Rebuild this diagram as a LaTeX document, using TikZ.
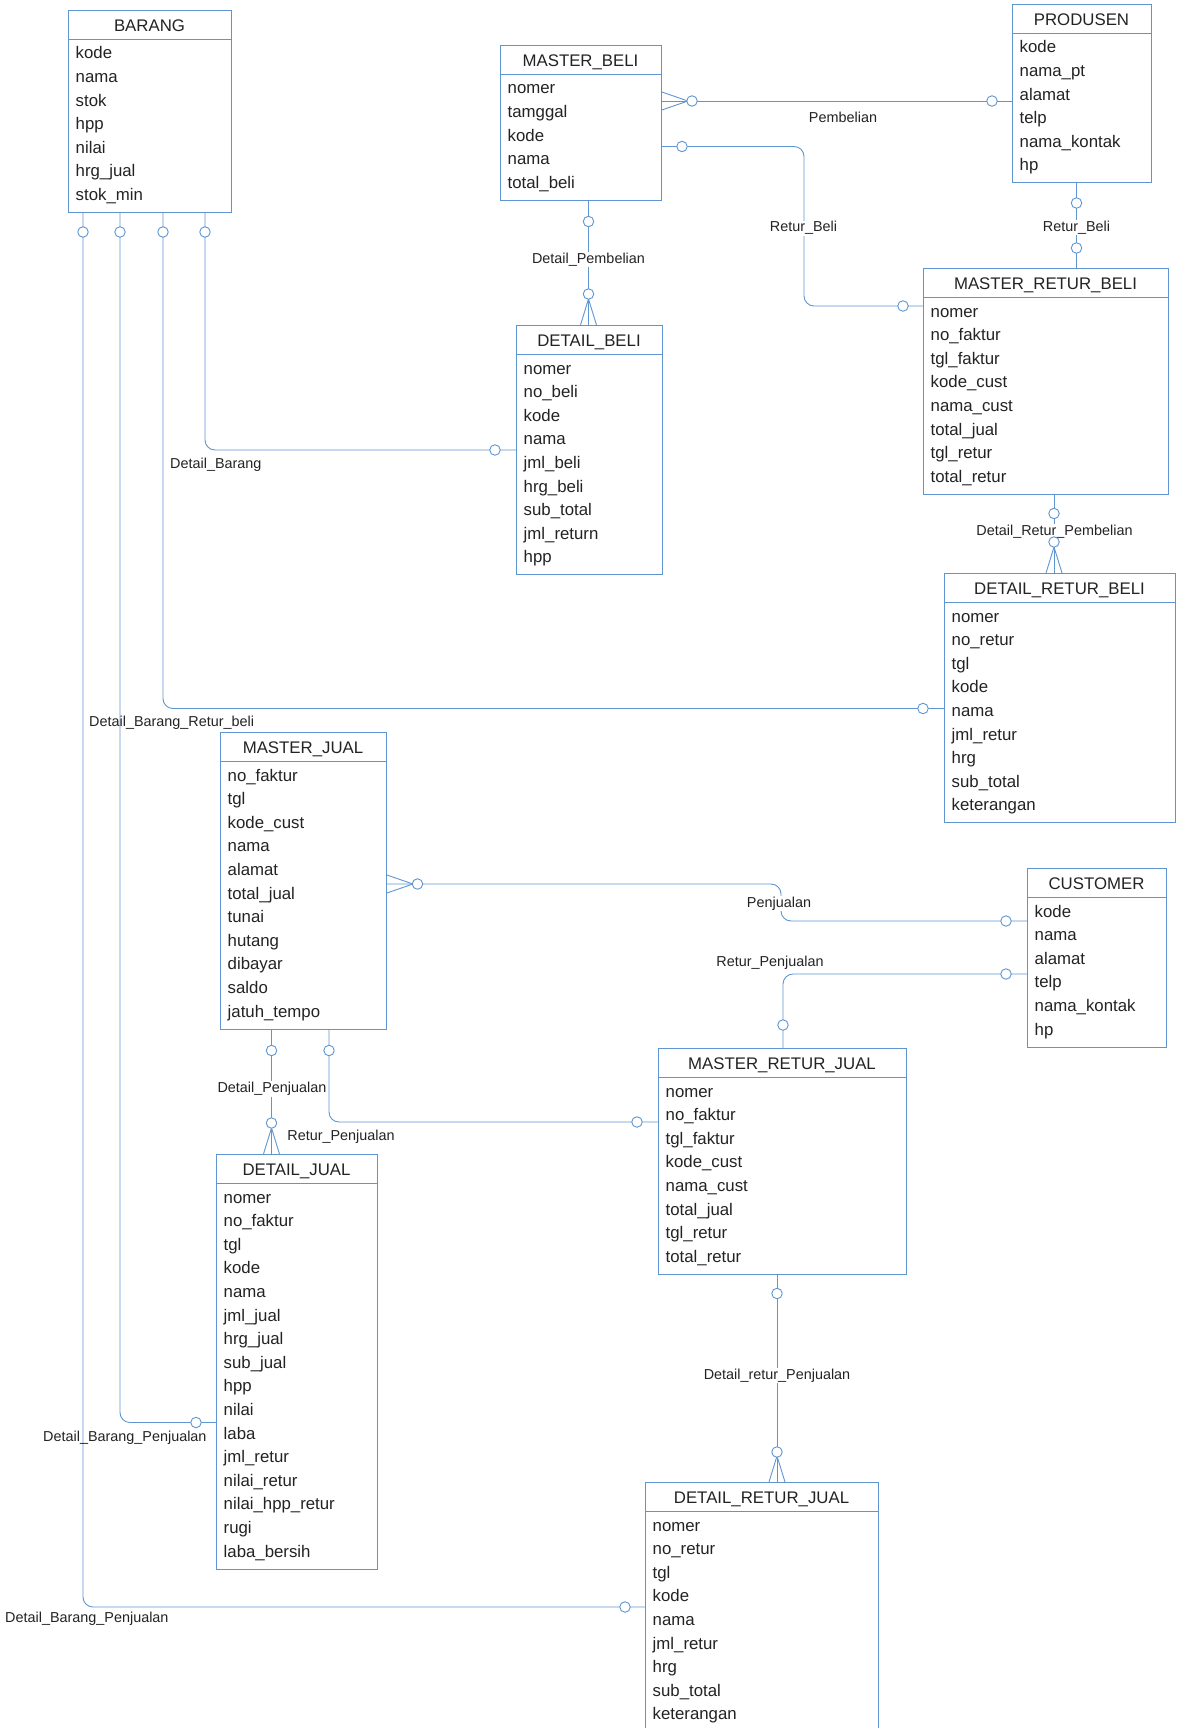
\documentclass[tikz,border=0pt]{standalone}
\usepackage{fontspec}
\setmainfont{Liberation Sans}

\definecolor{erblue}{RGB}{95,150,210}
\definecolor{ertext}{RGB}{35,35,35}

\tikzset{
  entbox/.style={draw=erblue, line width=0.9pt, anchor=north west, inner sep=0pt},
  enttitle/.style={anchor=base, inner sep=0pt, text=ertext, font=\fontsize{16.8}{18}\selectfont},
  attr/.style={anchor=base west, inner sep=0pt, text=ertext, font=\fontsize{16.8}{18}\selectfont},
  rel/.style={draw=erblue, line width=0.9pt, rounded corners=10pt},
  crow/.style={draw=erblue, line width=0.9pt},
  zero/.style={circle, draw=erblue, fill=white, line width=0.9pt, minimum size=10.5pt, inner sep=0pt},
  rlabel/.style={anchor=base, inner sep=0pt, text=ertext, font=\fontsize{14.4}{16}\selectfont},
  rlabelw/.style={rlabel, fill=white, inner sep=1pt},
}

% name, x, y, width, rows, title, attributes
\newcommand{\erentity}[7]{%
  \node[entbox, minimum width=#4, minimum height={60.5+23.6*(#5-1)}] (#1) at (#2,#3) {};
  \draw[crow] (#1.north west) ++(0,29) -- ++(#4,0);
  \node[enttitle] (#1-t) at ({#2+#4/2},{#3+21.5}) {#6};
  \foreach \a [count=\i] in {#7}
    \node[attr] (#1-\i) at ({#2+7.5},{#3+49+23.6*(\i-1)}) {\a};
}

\begin{document}
\begin{tikzpicture}[x=1pt,y=-1pt]
  \fill[white] (0,0) rectangle (1179,1728);
  \useasboundingbox (0,0) rectangle (1179,1728);

  % tables
  \erentity{barang}{68}{10}{163}{7}{BARANG}{kode,nama,stok,hpp,nilai,hrg\_jual,stok\_min}
  \erentity{mbeli}{500}{45}{161}{5}{MASTER\_BELI}{nomer,tamggal,kode,nama,total\_beli}
  \erentity{produsen}{1012}{4}{139}{6}{PRODUSEN}{kode,nama\_pt,alamat,telp,nama\_kontak,hp}
  \erentity{mretb}{923}{268}{245}{8}{MASTER\_RETUR\_BELI}{nomer,no\_faktur,tgl\_faktur,kode\_cust,nama\_cust,total\_jual,tgl\_retur,total\_retur}
  \erentity{dbeli}{516}{325}{146}{9}{DETAIL\_BELI}{nomer,no\_beli,kode,nama,jml\_beli,hrg\_beli,sub\_total,jml\_return,hpp}
  \erentity{dretb}{944}{573}{231}{9}{DETAIL\_RETUR\_BELI}{nomer,no\_retur,tgl,kode,nama,jml\_retur,hrg,sub\_total,keterangan}
  \erentity{mjual}{220}{732}{166}{11}{MASTER\_JUAL}{no\_faktur,tgl,kode\_cust,nama,alamat,total\_jual,tunai,hutang,dibayar,saldo,jatuh\_tempo}
  \erentity{customer}{1027}{868}{139}{6}{CUSTOMER}{kode,nama,alamat,telp,nama\_kontak,hp}
  \erentity{mretj}{658}{1048}{248}{8}{MASTER\_RETUR\_JUAL}{nomer,no\_faktur,tgl\_faktur,kode\_cust,nama\_cust,total\_jual,tgl\_retur,total\_retur}
  \erentity{djual}{216}{1154}{161}{16}{DETAIL\_JUAL}{nomer,no\_faktur,tgl,kode,nama,jml\_jual,hrg\_jual,sub\_jual,hpp,nilai,laba,jml\_retur,nilai\_retur,nilai\_hpp\_retur,rugi,laba\_bersih}
  \erentity{dretj}{645}{1482}{233}{9}{DETAIL\_RETUR\_JUAL}{nomer,no\_retur,tgl,kode,nama,jml\_retur,hrg,sub\_total,keterangan}

  % optional ends
  \coordinate (pbA) at (692,101);     \coordinate (pbB) at (992,101);
  \coordinate (rbA) at (682,146.5);   \coordinate (rbK) at (804,226);   \coordinate (rbB) at (903,306);
  \coordinate (rpA) at (1076.5,203);  \coordinate (rpB) at (1076.5,248);
  \coordinate (dpA) at (588.5,221.5); \coordinate (dpB) at (588.5,294);
  \coordinate (dgA) at (205,232);     \coordinate (dgB) at (495,450);
  \coordinate (drA) at (163,232);     \coordinate (drB) at (923,708.5);
  \coordinate (bjA) at (120,232);     \coordinate (bjB) at (196,1422.5);
  \coordinate (brA) at (83,232);      \coordinate (brB) at (625,1607);
  \coordinate (pjA) at (417.5,884);   \coordinate (pjK) at (781,902);   \coordinate (pjB) at (1006,921);
  \coordinate (rjA) at (1006,974);    \coordinate (rjB) at (783,1025);
  \coordinate (djA) at (271.5,1050.5); \coordinate (djB) at (271.5,1123);
  \coordinate (rlA) at (329,1050.5);  \coordinate (rlB) at (637,1122);
  \coordinate (dxA) at (777,1293.5);  \coordinate (dxB) at (777,1452);
  \coordinate (dtA) at (1054,513.5);  \coordinate (dtB) at (1054,542);

  % relations
  \draw[rel] (mbeli.east |- pbA) -- (produsen.west |- pbB);
  \draw[crow] (mbeli.east |- pbA) ++(0,-9) -- ++(26,9) -- ++(-26,9);
  \draw[rel] (mbeli.east |- rbA) -| (rbK) |- (mretb.west |- rbB);
  \draw[rel] (produsen.south -| rpA) -- (mretb.north -| rpB);
  \draw[rel] (mbeli.south -| dpA) -- (dbeli.north -| dpB);
  \draw[crow] (dbeli.north -| dpB) ++(-8,0) -- ++(8,-26) -- ++(8,26);
  \draw[rel] (barang.south -| dgA) |- (dbeli.west |- dgB);
  \draw[rel] (barang.south -| drA) |- (dretb.west |- drB);
  \draw[rel] (barang.south -| bjA) |- (djual.west |- bjB);
  \draw[rel] (barang.south -| brA) |- (dretj.west |- brB);
  \draw[rel] (mjual.east |- pjA) -| (pjK) |- (customer.west |- pjB);
  \draw[crow] (mjual.east |- pjA) ++(0,-9) -- ++(26,9) -- ++(-26,9);
  \draw[rel] (customer.west |- rjA) -| (mretj.north -| rjB);
  \draw[rel] (mjual.south -| djA) -- (djual.north -| djB);
  \draw[crow] (djual.north -| djB) ++(-8,0) -- ++(8,-26) -- ++(8,26);
  \draw[rel] (mjual.south -| rlA) |- (mretj.west |- rlB);
  \draw[rel] (mretj.south -| dxA) -- (dretj.north -| dxB);
  \draw[crow] (dretj.north -| dxB) ++(-8,0) -- ++(8,-26) -- ++(8,26);
  \draw[rel] (mretb.south -| dtA) -- (dretb.north -| dtB);
  \draw[crow] (dretb.north -| dtB) ++(-8,0) -- ++(8,-26) -- ++(8,26);

  % relation names
  \node[rlabel] (lpb) at (843,123) {Pembelian};
  \node[rlabelw] (lrb1) at (803.5,232) {Retur\_Beli};
  \node[rlabelw] (lrb2) at (1076.5,231.5) {Retur\_Beli};
  \node[rlabelw] (ldp) at (588.5,263) {Detail\_Pembelian};
  \node[rlabel, anchor=base west] (ldg) at (170,468) {Detail\_Barang};
  \node[rlabel, anchor=base west] (ldr) at (89,726) {Detail\_Barang\_Retur\_beli};
  \node[rlabel, anchor=base west] (lbj1) at (43,1441) {Detail\_Barang\_Penjualan};
  \node[rlabel, anchor=base west] (lbj2) at (5,1622.5) {Detail\_Barang\_Penjualan};
  \node[rlabelw] (ldt) at (1054.5,535) {Detail\_Retur\_Pembelian};
  \node[rlabelw] (lpj) at (779,907) {Penjualan};
  \node[rlabel] (lrj1) at (770,966) {Retur\_Penjualan};
  \node[rlabelw] (ldj) at (272,1092.5) {Detail\_Penjualan};
  \node[rlabel] (lrj2) at (341,1140) {Retur\_Penjualan};
  \node[rlabelw] (ldx) at (777,1379) {Detail\_retur\_Penjualan};

  \foreach \c in {pbA,pbB,rbA,rbB,rpA,rpB,dpA,dpB,dgA,dgB,drA,drB,bjA,bjB,brA,brB,
                  pjA,pjB,rjA,rjB,djA,djB,rlA,rlB,dxA,dxB,dtA,dtB}
    \node[zero] (\c-o) at (\c) {};
\end{tikzpicture}
\end{document}
